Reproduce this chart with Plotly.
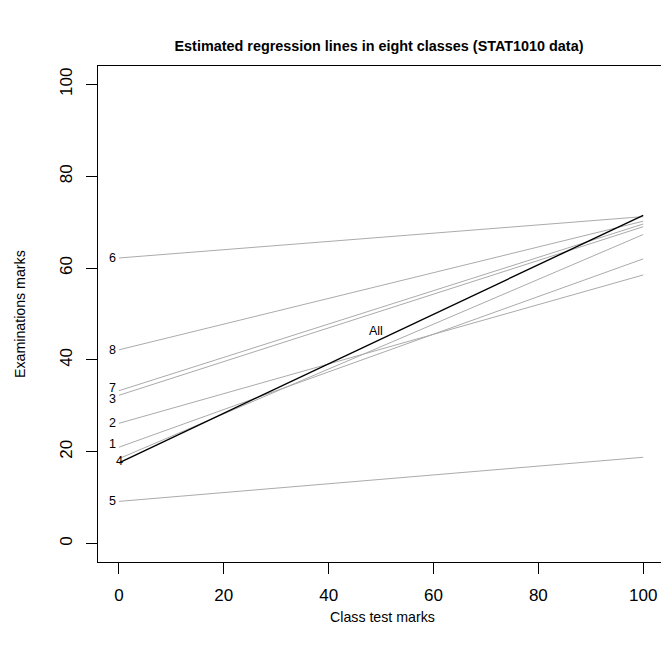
import plotly.graph_objects as go

# Data
classes = ["1", "2", "3", "4", "5", "6", "7", "8"]
exam_at_0 = [21.0, 26.2, 32.3, 18.5, 9.2, 62.2, 33.3, 42.2]
exam_at_100 = [62.0, 58.5, 69.0, 67.3, 18.8, 71.2, 69.6, 70.2]
all_at_0 = 17.6
all_at_100 = 71.5
x_ends = [0, 100]
x_ticks = [0, 20, 40, 60, 80, 100]
y_ticks = [0, 20, 40, 60, 80, 100]

title = "Estimated regression lines in eight classes (STAT1010 data)"
x_title = "Class test marks"
y_title = "Examinations marks"

FONT = "Liberation Sans, Arial, Helvetica, sans-serif"
W, H = 661, 652
ML, MR, MT, MB = 98, 0, 66, 90
PW, PH = W - ML - MR, H - MT - MB

fig = go.Figure()
for c, a, b in zip(classes, exam_at_0, exam_at_100):
    fig.add_trace(go.Scatter(x=x_ends, y=[a, b], mode="lines",
                             line=dict(color="#ababab", width=1),
                             showlegend=False, hoverinfo="skip"))
fig.add_trace(go.Scatter(x=x_ends, y=[all_at_0, all_at_100], mode="lines",
                         line=dict(color="black", width=1.4),
                         showlegend=False, hoverinfo="skip"))

# label pixel tweaks (style only)
xshift = {"4": 6}
yshift = {"7": 3, "3": -4, "4": -2, "1": 3}
for c, a in zip(classes, exam_at_0):
    fig.add_annotation(x=0, y=a, text=c, showarrow=False, xref="x", yref="y",
                       xanchor="right", yanchor="middle",
                       xshift=xshift.get(c, -1), yshift=yshift.get(c, 0),
                       font=dict(family=FONT, size=12.5, color="black"))
fig.add_annotation(x=49, y=46.3, text="All", showarrow=False, xref="x", yref="y",
                   font=dict(family=FONT, size=12.5, color="black"))
fig.add_annotation(x=(382 - ML) / PW, y=-(617 - (MT + PH)) / PH, text=x_title,
                   showarrow=False, xref="paper", yref="paper",
                   xanchor="center", yanchor="middle",
                   font=dict(family=FONT, size=14.2, color="black"))
fig.add_annotation(x=-(ML - 20) / PW, y=0.5, xref="paper", yref="paper",
                   text=y_title, showarrow=False, textangle=-90,
                   xanchor="center", yanchor="middle",
                   font=dict(family=FONT, size=14.2, color="black"))

fig.update_layout(
    width=W, height=H,
    margin=dict(l=ML, r=MR, t=MT, b=MB, autoexpand=False),
    paper_bgcolor="white", plot_bgcolor="white",
    title=dict(text="<b>" + title + "</b>", x=(379 - ML) / PW, xref="paper",
               xanchor="center",
               y=1 - 46 / H, yref="container", yanchor="middle",
               font=dict(family=FONT, size=14.4, color="black")),
    font=dict(family=FONT, color="black"),
)

fig.update_xaxes(range=[-4, 103.4], tickvals=x_ticks, ticks="outside",
                 ticklen=11, tickcolor="black", showgrid=False, zeroline=False,
                 showline=True, mirror=True, linecolor="black", linewidth=1,
                 automargin=False, ticklabelstandoff=7,
                 tickfont=dict(family=FONT, size=17, color="black"))
fig.update_yaxes(range=[-4, 104], tickvals=y_ticks, ticks="outside",
                 ticklen=11, tickcolor="black", showgrid=False, zeroline=False,
                 showline=True, mirror=False, linecolor="black", linewidth=1,
                 tickangle=-90, automargin=False, ticklabelstandoff=7,
                 tickfont=dict(family=FONT, size=17, color="black"))

fig.write_html("out.html", config={"displayModeBar": False},
               post_script="document.body.style.margin='0';"
                           "document.body.style.overflow='hidden';")
